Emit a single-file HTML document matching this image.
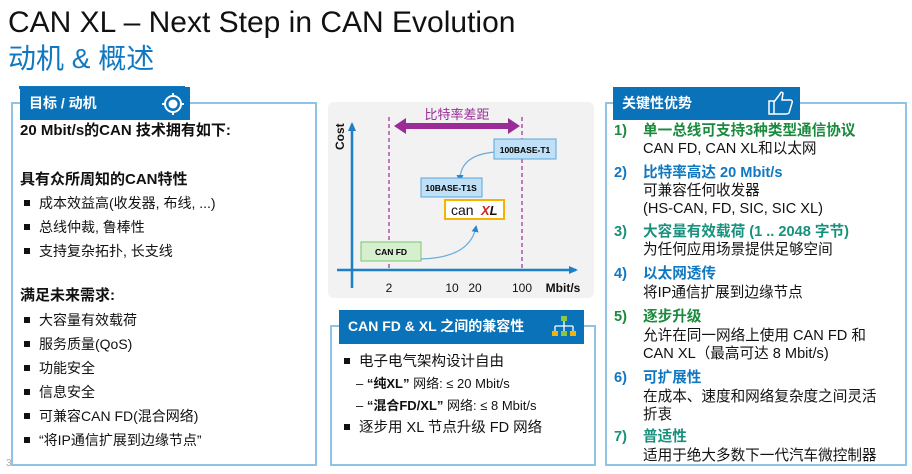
<!DOCTYPE html>
<html><head><meta charset="utf-8"><style>
*{margin:0;padding:0;box-sizing:border-box}
body{width:912px;height:474px;background:#fff;position:relative;overflow:hidden;font-family:"Liberation Sans","Noto Sans CJK SC",sans-serif;color:#111}
.a{position:absolute;white-space:nowrap}
.panel{position:absolute;border:2px solid #8fc3e6}
.tab{position:absolute;background:#0a72b9;color:#fff;font-weight:bold;font-size:14px;padding-left:9px;line-height:33px}
.t{position:absolute;white-space:nowrap;font-size:14px;line-height:18px}
.r{font-size:14.6px}
.b{font-weight:bold}
.sq{display:inline-block;width:6px;height:6px;background:#111;margin:0 9px 2px 4px;vertical-align:middle}
.g{color:#1a8a3c;font-weight:bold}
.bl{color:#1078c0;font-weight:bold}
.tl{color:#17907c;font-weight:bold}
.n{position:absolute;font-size:14.6px;font-weight:bold;line-height:18px}
</style></head><body>
<div class="a" style="left:8px;top:5px;font-size:30px;line-height:36px;color:#111">CAN XL – Next Step in CAN Evolution</div>
<div class="a" style="left:8px;top:42px;font-size:28px;line-height:34px;color:#1078c0">动机 &amp; 概述</div>
<div class="a" style="left:19px;top:86px;width:166px;height:3px;background:#1078c0"></div>

<!-- left -->
<div class="panel" style="left:11px;top:102px;width:306px;height:364px"></div>
<div class="tab" style="left:20px;top:87px;width:170px;height:33px">目标 / 动机
<svg style="position:absolute;left:141px;top:5px" width="24" height="24" viewBox="0 0 24 24"><circle cx="12" cy="12" r="8" fill="none" stroke="#fff" stroke-width="2"/><circle cx="12" cy="12" r="4.5" fill="#fff"/><path d="M12 1v4M12 19v4M1 12h4M19 12h4" stroke="#fff" stroke-width="2"/></svg></div>
<div class="t b" style="left:20px;top:122px;font-size:15px">20 Mbit/s的CAN 技术拥有如下:</div>
<div class="t b" style="left:20px;top:171px;font-size:15px">具有众所周知的CAN特性</div>
<div class="t" style="left:20px;top:194px"><span class="sq"></span>成本效益高(收发器, 布线, ...)</div>
<div class="t" style="left:20px;top:218px"><span class="sq"></span>总线仲裁, 鲁棒性</div>
<div class="t" style="left:20px;top:242px"><span class="sq"></span>支持复杂拓扑, 长支线</div>
<div class="t b" style="left:20px;top:287px;font-size:15px">满足未来需求:</div>
<div class="t" style="left:20px;top:311px"><span class="sq"></span>大容量有效载荷</div>
<div class="t" style="left:20px;top:335px"><span class="sq"></span>服务质量(QoS)</div>
<div class="t" style="left:20px;top:359px"><span class="sq"></span>功能安全</div>
<div class="t" style="left:20px;top:383px"><span class="sq"></span>信息安全</div>
<div class="t" style="left:20px;top:407px"><span class="sq"></span>可兼容CAN FD(混合网络)</div>
<div class="t" style="left:20px;top:431px"><span class="sq"></span>“将IP通信扩展到边缘节点”</div>
<div class="a" style="left:6px;top:458px;font-size:10px;color:#aaa">3</div>

<!-- chart -->
<svg class="a" style="left:328px;top:102px" width="267" height="197" viewBox="328 102 267 197">
<defs><marker id="ah" markerUnits="userSpaceOnUse" markerWidth="10" markerHeight="10" refX="7" refY="5" orient="auto"><path d="M0 1L9 5L0 9z" fill="#1d7fc4"/></marker>
<marker id="sa" markerUnits="userSpaceOnUse" markerWidth="7" markerHeight="7" refX="5" refY="3.5" orient="auto"><path d="M0 0L7 3.5L0 7z" fill="#2a86c8"/></marker></defs>
<rect x="328" y="102" width="266" height="196" rx="6" fill="#f2f2f2"/>
<line x1="352" y1="288" x2="352" y2="124" stroke="#1d7fc4" stroke-width="2.5" marker-end="url(#ah)"/>
<line x1="337" y1="270" x2="576" y2="270" stroke="#1d7fc4" stroke-width="2.5" marker-end="url(#ah)"/>
<line x1="389" y1="117" x2="389" y2="270" stroke="#9b2c97" stroke-width="1.2" stroke-dasharray="4,3"/>
<line x1="522" y1="117" x2="522" y2="270" stroke="#9b2c97" stroke-width="1.2" stroke-dasharray="4,3"/>
<path d="M394 126 L406 118 L406 123 L508 123 L508 118 L520 126 L508 134 L508 129 L406 129 L406 134Z" fill="#9b2c97"/>
<text x="457" y="119" font-size="13" fill="#9b2c97" text-anchor="middle" font-family="Liberation Sans,Noto Sans CJK SC,sans-serif">比特率差距</text>
<text transform="translate(344,150) rotate(-90)" font-size="12" font-weight="bold" fill="#111" font-family="Liberation Sans,sans-serif">Cost</text>
<path d="M495 152 Q460 155 460 180" fill="none" stroke="#6aaedc" stroke-width="1.2" marker-end="url(#sa)"/>
<path d="M420 259 Q470 258 476 227" fill="none" stroke="#6aaedc" stroke-width="1.2" marker-end="url(#sa)"/>
<rect x="494" y="139" width="62" height="20" fill="#bfe0f6" stroke="#5aa7dc"/>
<text x="525" y="153" font-size="8.5" font-weight="bold" text-anchor="middle" font-family="Liberation Sans,sans-serif">100BASE-T1</text>
<rect x="421" y="178" width="61" height="19" fill="#bfe0f6" stroke="#5aa7dc"/>
<text x="451" y="191" font-size="8.5" font-weight="bold" text-anchor="middle" font-family="Liberation Sans,sans-serif">10BASE-T1S</text>
<rect x="445" y="200" width="59" height="19" fill="#fff" stroke="#f4b400" stroke-width="2"/>
<text x="451" y="215" font-size="14" font-family="Liberation Sans,sans-serif" fill="#111">can</text>
<text x="481" y="215" font-size="13" font-weight="bold" font-style="italic" font-family="Liberation Sans,sans-serif"><tspan fill="#d0251c">X</tspan><tspan fill="#111">L</tspan></text>
<rect x="361" y="242" width="60" height="19" fill="#d6f0cf" stroke="#7cc46c"/>
<text x="391" y="255" font-size="8.5" font-weight="bold" text-anchor="middle" font-family="Liberation Sans,sans-serif">CAN FD</text>
<g font-size="12" font-family="Liberation Sans,sans-serif" fill="#111" text-anchor="middle">
<text x="389" y="292">2</text><text x="452" y="292">10</text><text x="475" y="292">20</text><text x="522" y="292">100</text>
<text x="563" y="292" font-weight="bold">Mbit/s</text></g>
</svg>

<!-- middle panel -->
<div class="panel" style="left:330px;top:325px;width:266px;height:141px"></div>
<div class="tab" style="left:339px;top:310px;width:245px;height:34px;font-size:14px">CAN FD &amp; XL 之间的兼容性
<svg style="position:absolute;left:212px;top:5px" width="26" height="24" viewBox="0 0 26 24"><rect x="10" y="1" width="6" height="5" fill="#8dc63f"/><path d="M13 6v5M4 11h18M4 11v5M13 11v5M22 11v5" stroke="#fff" stroke-width="1.3" fill="none"/><rect x="1" y="16" width="6" height="5" fill="#f4b400"/><rect x="10" y="16" width="6" height="5" fill="#8dc63f"/><rect x="19" y="16" width="6" height="5" fill="#f4b400"/></svg></div>
<div class="t" style="left:340px;top:353px;font-size:14.5px"><span class="sq"></span>电子电气架构设计自由</div>
<div class="t" style="left:356px;top:375px;font-size:13px">– <b>“纯XL”</b> 网络: ≤ 20 Mbit/s</div>
<div class="t" style="left:356px;top:397px;font-size:13px">– <b>“混合FD/XL”</b> 网络: ≤ 8 Mbit/s</div>
<div class="t" style="left:340px;top:419px;font-size:14.5px"><span class="sq"></span>逐步用 XL 节点升级 FD 网络</div>

<!-- right -->
<div class="panel" style="left:605px;top:102px;width:302px;height:364px"></div>
<div class="tab" style="left:613px;top:87px;width:187px;height:33px">关键性优势
<svg style="position:absolute;left:154px;top:3px" width="28" height="26" viewBox="0 0 28 26"><path d="M2 11h5v13H2z M7 12 L13 4 Q14 1 16 3 L15 10 H24 Q26 11 25 13 L22 23 Q21 24 19 24 H7" fill="none" stroke="#fff" stroke-width="1.5"/></svg></div>
<div class="n g" style="left:614px;top:122px">1)</div><div class="t r g" style="left:643px;top:122px">单一总线可支持3种类型通信协议</div>
<div class="t r" style="left:643px;top:140px">CAN FD, CAN XL和以太网</div>
<div class="n bl" style="left:614px;top:164px">2)</div><div class="t r bl" style="left:643px;top:164px">比特率高达 20 Mbit/s</div>
<div class="t r" style="left:643px;top:182px">可兼容任何收发器</div>
<div class="t r" style="left:643px;top:200px">(HS-CAN, FD, SIC, SIC XL)</div>
<div class="n tl" style="left:614px;top:223px">3)</div><div class="t r tl" style="left:643px;top:223px">大容量有效载荷 (1 .. 2048 字节)</div>
<div class="t r" style="left:643px;top:241px">为任何应用场景提供足够空间</div>
<div class="n bl" style="left:614px;top:265px">4)</div><div class="t r bl" style="left:643px;top:265px">以太网透传</div>
<div class="t r" style="left:643px;top:284px">将IP通信扩展到边缘节点</div>
<div class="n g" style="left:614px;top:308px">5)</div><div class="t r g" style="left:643px;top:308px">逐步升级</div>
<div class="t r" style="left:643px;top:327px">允许在同一网络上使用 CAN FD 和</div>
<div class="t r" style="left:643px;top:345px">CAN XL（最高可达 8 Mbit/s)</div>
<div class="n bl" style="left:614px;top:369px">6)</div><div class="t r bl" style="left:643px;top:369px">可扩展性</div>
<div class="t r" style="left:643px;top:388px">在成本、速度和网络复杂度之间灵活</div>
<div class="t r" style="left:643px;top:406px">折衷</div>
<div class="n tl" style="left:614px;top:428px">7)</div><div class="t r tl" style="left:643px;top:428px">普适性</div>
<div class="t r" style="left:643px;top:447px">适用于绝大多数下一代汽车微控制器</div>
</body></html>
